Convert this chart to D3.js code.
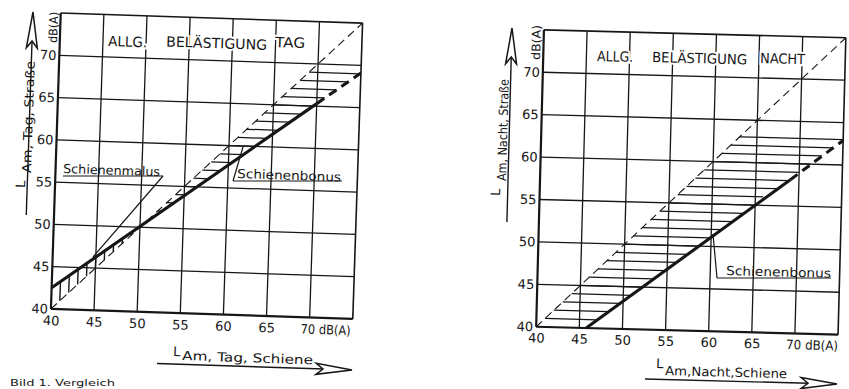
<!DOCTYPE html>
<html>
<head>
<meta charset="utf-8">
<script src="https://cdn.jsdelivr.net/npm/d3@7"></script>
<style>
  body { margin: 0; background: #fff; }
  svg { display: block; font-family: "DejaVu Sans", sans-serif; }
</style>
</head>
<body>
<svg id="chart" width="849" height="389"></svg>
<script>
// Werte in dB(A)
const domain = [40, 75];
const tickValues = [40, 45, 50, 55, 60, 65, 70];
const gridValues = [45, 50, 55, 60, 65, 70];

// Tag
const dayDiagonal = [[40, 40], [75, 75]];
const dayBonus = [[40, 42.5], [70, 65.3]];
const dayBonusDashed = [[70, 65.3], [75, 69.1]];
const dayBonusHatchY = [51, 52, 53, 54, 55, 56, 57, 58, 59, 60, 61, 62, 63, 64, 65, 66, 67, 68, 69];
const dayMalusHatchX = [41, 42, 43, 44, 45, 46, 47, 48, 49, 50];

// Nacht
const nightDiagonal = [[40, 40], [75, 75]];
const nightBonus = [[45.8, 40], [69, 58.1]];
const nightBonusDashed = [[69, 58.1], [75, 62.9]];
const nightHatchY = [41, 42, 43, 44, 45, 46, 47, 48, 49, 50, 51, 52, 53, 54, 55, 56, 57, 58, 59, 60, 61, 62, 63];
const nightMalusHatchX = [];

const ink = '#161616';
const svg = d3.select('#chart');

function drawPanel(p) {
    const rad = p.angle * Math.PI / 180;
    // Bildschirmpunkt -> Koordinaten in der (gedrehten) Gruppe
    const unrot = ([sx, sy]) => {
        const dx = sx - p.cx, dy = sy - p.cy;
        return [p.cx + dx * Math.cos(rad) + dy * Math.sin(rad),
                p.cy - dx * Math.sin(rad) + dy * Math.cos(rad)];
    };

    const g = svg.append('g').attr('transform', `rotate(${p.angle},${p.cx},${p.cy})`);

    const x = d3.scaleLinear().domain(domain).range([p.cx - p.w / 2, p.cx + p.w / 2]);
    const y = d3.scaleLinear().domain(domain).range([p.cy + p.h / 2, p.cy - p.h / 2]);
    const line = d3.line().x(d => x(d[0])).y(d => y(d[1]));

    // Raster
    g.selectAll('.gx').data(gridValues).join('line')
        .attr('x1', d => x(d)).attr('x2', d => x(d))
        .attr('y1', y(40)).attr('y2', y(75))
        .attr('stroke', ink).attr('stroke-width', 1.3);
    g.selectAll('.gy').data(gridValues).join('line')
        .attr('y1', d => y(d)).attr('y2', d => y(d))
        .attr('x1', x(40)).attr('x2', x(75))
        .attr('stroke', ink).attr('stroke-width', 1.3);

    // Rahmen
    g.append('line').attr('x1', x(40)).attr('x2', x(75)).attr('y1', y(75)).attr('y2', y(75))
        .attr('stroke', ink).attr('stroke-width', 1.6);
    g.append('line').attr('x1', x(75)).attr('x2', x(75)).attr('y1', y(40)).attr('y2', y(75))
        .attr('stroke', ink).attr('stroke-width', 1.6);
    g.append('line').attr('x1', x(40)).attr('x2', x(40)).attr('y1', y(40)).attr('y2', y(75))
        .attr('stroke', ink).attr('stroke-width', 2.2);
    g.append('line').attr('x1', x(40)).attr('x2', x(75)).attr('y1', y(40)).attr('y2', y(40))
        .attr('stroke', ink).attr('stroke-width', 2.2);

    // Bonuslinie als Ganzes (für Schraffurgrenzen)
    const a = p.bonus[0], b = p.bonusDashed[1];
    const xOnBonus = v => a[0] + (v - a[1]) * (b[0] - a[0]) / (b[1] - a[1]);
    const yOnBonus = v => a[1] + (v - a[0]) * (b[1] - a[1]) / (b[0] - a[0]);

    // waagerechte Schraffur (Schienenbonus)
    g.selectAll('.hb').data(p.hatchY).join('line')
        .attr('x1', d => x(d))
        .attr('x2', d => x(Math.min(75, xOnBonus(d))))
        .attr('y1', d => y(d)).attr('y2', d => y(d))
        .attr('stroke', ink).attr('stroke-width', 1.25);

    // senkrechte Schraffur (Schienenmalus)
    g.selectAll('.hm').data(p.malusX.filter(v => yOnBonus(v) > v)).join('line')
        .attr('x1', d => x(d)).attr('x2', d => x(d))
        .attr('y1', d => y(d)).attr('y2', d => y(yOnBonus(d)))
        .attr('stroke', ink).attr('stroke-width', 1.4);

    // Diagonale
    g.append('path').datum(p.diagonal).attr('d', line)
        .attr('fill', 'none').attr('stroke', ink).attr('stroke-width', 1.1)
        .attr('stroke-dasharray', '8,5');

    // Bonuslinie
    g.append('path').datum(p.bonus).attr('d', line)
        .attr('fill', 'none').attr('stroke', ink).attr('stroke-width', 3.1);
    g.append('path').datum(p.bonusDashed).attr('d', line)
        .attr('fill', 'none').attr('stroke', ink).attr('stroke-width', 3.1)
        .attr('stroke-dasharray', '9,6');

    // Achsbeschriftung
    const xAxis = g.append('g')
        .attr('transform', `translate(0,${y(40)})`)
        .call(d3.axisBottom(x).tickValues(tickValues).tickSize(0).tickPadding(p.xPad))
        .call(s => s.select('.domain').remove());
    xAxis.attr('font-size', 13).attr('font-family', null);
    xAxis.selectAll('text').attr('fill', ink);
    xAxis.selectAll('.tick').filter(d => d === 70).select('text')
        .attr('text-anchor', 'start').attr('x', -9)
        .attr('textLength', p.lastLen).attr('lengthAdjust', 'spacingAndGlyphs')
        .text('70 dB(A)');

    const yAxis = g.append('g')
        .attr('transform', `translate(${x(40)},0)`)
        .call(d3.axisLeft(y).tickValues(tickValues).tickSize(0).tickPadding(3))
        .call(s => s.select('.domain').remove());
    yAxis.attr('font-size', 13).attr('font-family', null);
    yAxis.selectAll('text').attr('fill', ink);

    // Texte an Bildschirmpositionen
    const label = (str, pos, size, len, vertical) => {
        const [ux, uy] = unrot(pos);
        const t = g.append('text')
            .attr('font-size', size).attr('fill', ink)
            .attr('transform', vertical ? `translate(${ux},${uy}) rotate(-90)` : `translate(${ux},${uy})`)
            .text(str);
        if (len) t.attr('textLength', len).attr('lengthAdjust', 'spacingAndGlyphs');
        return t;
    };
    const seg = (p1, p2, w) => {
        const u1 = unrot(p1), u2 = unrot(p2);
        g.append('line').attr('x1', u1[0]).attr('y1', u1[1]).attr('x2', u2[0]).attr('y2', u2[1])
            .attr('stroke', ink).attr('stroke-width', w || 1.3);
    };

    p.title.forEach(t => {
        label(t.text, t.pos, 14, t.len)
            .attr('stroke', '#fff').attr('stroke-width', 4).attr('paint-order', 'stroke');
    });

    label('dB(A)', p.unit.pos, 12, p.unit.len, true);

    // Achsentitel y
    label('L', p.yTitle.l, 13, null, true);
    label(p.yTitle.text, p.yTitle.pos, 12.5, p.yTitle.len, true);
    // Achsentitel x
    label('L', p.xTitle.l, 13);
    label(p.xTitle.text, p.xTitle.pos, 12.5, p.xTitle.len);

    // Pfeil y
    const ya = unrot(p.yArrow.from), yt = unrot(p.yArrow.tip);
    g.append('line').attr('x1', yt[0]).attr('x2', yt[0]).attr('y1', ya[1]).attr('y2', yt[1] + 28)
        .attr('stroke', ink).attr('stroke-width', 1.4);
    g.append('path')
        .attr('d', `M${yt[0]},${yt[1]} L${yt[0] + 5.5},${yt[1] + 36} L${yt[0]},${yt[1] + 29} L${yt[0] - 5.5},${yt[1] + 36} Z`)
        .attr('fill', '#fff').attr('stroke', ink).attr('stroke-width', 1.5);

    // Pfeil x
    const xa = unrot(p.xArrow.from), xt = unrot(p.xArrow.tip);
    g.append('line').attr('x1', xa[0]).attr('x2', xt[0] - 28).attr('y1', xt[1]).attr('y2', xt[1])
        .attr('stroke', ink).attr('stroke-width', 1.4);
    g.append('path')
        .attr('d', `M${xt[0]},${xt[1]} L${xt[0] - 36},${xt[1] - 5.5} L${xt[0] - 29},${xt[1]} L${xt[0] - 36},${xt[1] + 5.5} Z`)
        .attr('fill', '#fff').attr('stroke', ink).attr('stroke-width', 1.5);

    // Hinweise Schienenbonus / Schienenmalus
    p.notes.forEach(n => {
        label(n.text, n.pos, 12.5, n.len);
        seg(n.under[0], n.under[1], 1.2);
        seg(n.leader[0], n.leader[1], 1.2);
    });
}

drawPanel({
    cx: 206.75, cy: 166, w: 302, h: 296, angle: 1.9,
    diagonal: dayDiagonal, bonus: dayBonus, bonusDashed: dayBonusDashed,
    hatchY: dayBonusHatchY, malusX: dayMalusHatchX,
    xPad: 7, lastLen: 50,
    title: [
        { text: 'ALLG.', pos: [108, 46], len: 39 },
        { text: 'BELÄSTIGUNG', pos: [166, 46.5], len: 101 },
        { text: 'TAG', pos: [275, 47], len: 30 }
    ],
    unit: { pos: [57, 43], len: 31 },
    yTitle: { l: [25, 188], text: 'Am, Tag, Straße', pos: [31, 173], len: 112 },
    xTitle: { l: [173, 356], text: 'Am, Tag, Schiene', pos: [182, 360], len: 131 },
    yArrow: { from: [27, 215], tip: [33, 12] },
    xArrow: { from: [157, 364], tip: [352, 370] },
    notes: [
        { text: 'Schienenmalus', pos: [63, 173], len: 97,
          under: [[63, 176], [163, 176]], leader: [[163, 176], [93, 257]] },
        { text: 'Schienenbonus', pos: [237, 178], len: 104,
          under: [[233, 181], [342, 181]], leader: [[233, 181], [243, 147]] }
    ]
});

drawPanel({
    cx: 691, cy: 182.25, w: 302, h: 297, angle: 1.5,
    diagonal: nightDiagonal, bonus: nightBonus, bonusDashed: nightBonusDashed,
    hatchY: nightHatchY, malusX: nightMalusHatchX,
    xPad: 6.5, lastLen: 52,
    title: [
        { text: 'ALLG.', pos: [597, 61], len: 36 },
        { text: 'BELÄSTIGUNG', pos: [652, 62], len: 95 },
        { text: 'NACHT', pos: [760, 63], len: 45 }
    ],
    unit: { pos: [540, 60], len: 35 },
    yTitle: { l: [500, 196], text: 'Am, Nacht, Straße', pos: [506, 181], len: 102 },
    xTitle: { l: [656, 368], text: 'Am,Nacht,Schiene', pos: [665, 375], len: 122 },
    yArrow: { from: [507, 222], tip: [512, 28] },
    xArrow: { from: [645, 380], tip: [837, 384] },
    notes: [
        { text: 'Schienenbonus', pos: [726, 275], len: 105,
          under: [[717, 278], [831, 278]], leader: [[717, 278], [713, 234]] }
    ]
});

// Bildunterschrift (am unteren Rand)
svg.append('text')
    .attr('x', 10).attr('y', 386)
    .attr('font-size', 8).attr('fill', ink)
    .attr('textLength', 105).attr('lengthAdjust', 'spacingAndGlyphs')
    .text('Bild 1.  Vergleich');
</script>
</body>
</html>
